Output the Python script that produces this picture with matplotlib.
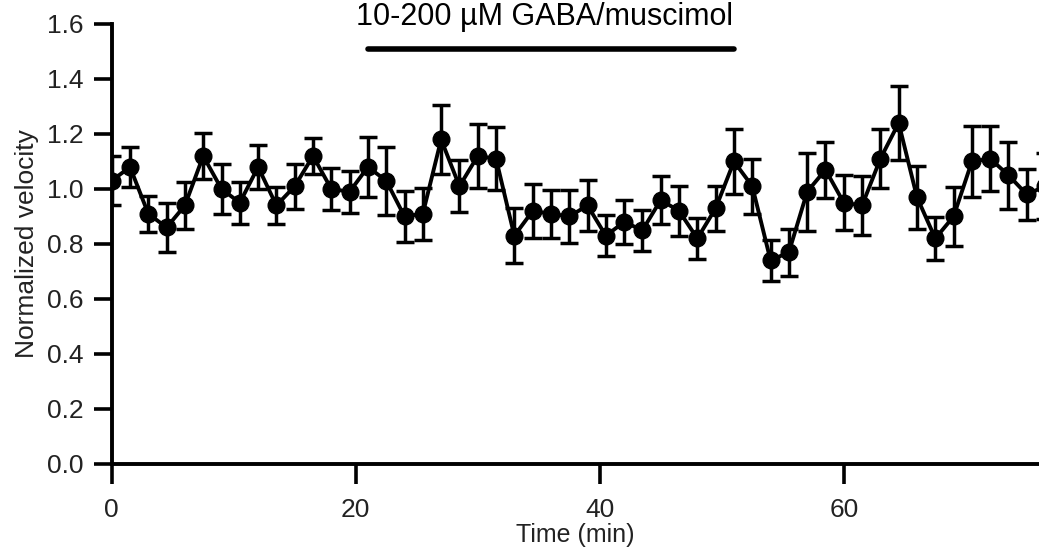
import numpy as np
import matplotlib
matplotlib.use("Agg")
import matplotlib.pyplot as plt

plt.rcParams['font.family'] = ['Liberation Sans', 'DejaVu Sans']

# time points (min), one every 1.5 min
time_min = np.arange(52) * 1.5

# normalized velocity (mean)
velocity = [1.03, 1.08, 0.91, 0.86, 0.94, 1.12, 1.00, 0.95, 1.08, 0.94,
            1.01, 1.12, 1.00, 0.99, 1.08, 1.03, 0.90, 0.91, 1.18, 1.01,
            1.12, 1.11, 0.83, 0.92, 0.91, 0.90, 0.94, 0.83, 0.88, 0.85,
            0.96, 0.92, 0.82, 0.93, 1.10, 1.01, 0.74, 0.77, 0.99, 1.07,
            0.95, 0.94, 1.11, 1.24, 0.97, 0.82, 0.90, 1.10, 1.11, 1.05,
            0.98, 1.01]

# SEM
sem = [0.089, 0.074, 0.065, 0.088, 0.085, 0.084, 0.091, 0.076, 0.080, 0.067,
       0.082, 0.067, 0.076, 0.076, 0.109, 0.123, 0.093, 0.095, 0.125, 0.094,
       0.117, 0.115, 0.100, 0.099, 0.088, 0.098, 0.094, 0.075, 0.080, 0.075,
       0.089, 0.092, 0.075, 0.082, 0.119, 0.100, 0.073, 0.085, 0.142, 0.102,
       0.100, 0.109, 0.107, 0.133, 0.115, 0.079, 0.107, 0.128, 0.119, 0.121,
       0.093, 0.120]

drug_label = "10-200 µM GABA/muscimol"
drug_start, drug_end = 21, 51

fig = plt.figure(figsize=(10.39, 5.55), dpi=100)
ax = fig.add_axes([0.1075, 0.164, 0.8925, 0.7928])

ax.errorbar(time_min, velocity, yerr=sem, color='black', lw=2.8,
            marker='o', markersize=12, elinewidth=2.5, capsize=6.2,
            capthick=2.5)

# drug application bar
ax.plot([drug_start, drug_end], [1.51, 1.51], color='black', lw=4,
        solid_capstyle='round', clip_on=False)
ax.text((drug_start + drug_end) / 2 - 0.5, 1.625, drug_label, ha='center',
        va='center', fontsize=22, clip_on=False)

ax.set_xlim(0, 76)
ax.set_ylim(0, 1.6)
ax.set_xticks([0, 20, 40, 60])
ax.set_yticks(np.arange(0, 1.61, 0.2))
ax.set_yticklabels([f"{v:.1f}" for v in np.arange(0, 1.61, 0.2)])

for side in ['top', 'right']:
    ax.spines[side].set_visible(False)
for side in ['left', 'bottom']:
    ax.spines[side].set_linewidth(2.8)

ax.tick_params(axis='y', direction='out', length=13, width=2.6, pad=7,
               labelsize=19, labelcolor='#222222')
ax.tick_params(axis='x', direction='out', length=14.5, width=2.6, pad=10,
               labelsize=19, labelcolor='#222222')

ax.set_xlabel("Time (min)", fontsize=18, labelpad=1, color='#222222')
ax.set_ylabel("Normalized velocity", fontsize=19, labelpad=6, color='#222222')

fig.savefig("out.png", dpi=100)
